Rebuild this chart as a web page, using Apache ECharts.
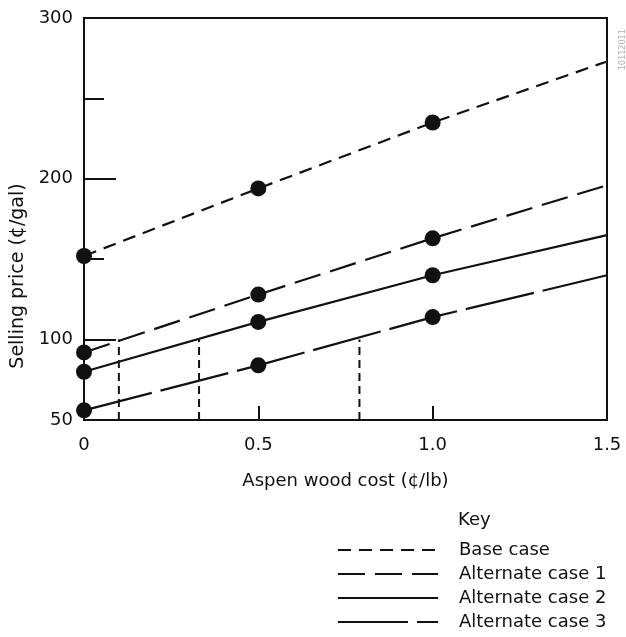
<!DOCTYPE html>
<html>
<head>
<meta charset="utf-8">
<script src="https://cdn.jsdelivr.net/npm/echarts@6/dist/echarts.min.js"></script>
<style>
  html, body { margin: 0; padding: 0; background: #fff; }
  #chart { width: 626px; height: 637px; }
</style>
</head>
<body>
<div id="chart"></div>
<script>
// Selling price (¢/gal) against aspen wood cost (¢/lb)
const woodCost = [0, 0.5, 1.0, 1.5];
const baseCase = [152, 194, 235, 273];
const alternate1 = [92, 128, 163, 196];
const alternate2 = [80, 111, 140, 165];
const alternate3 = [56, 84, 114, 140];
const markedCount = 3;                 // dots drawn at the first three costs
const breakEvenCost = [0.1, 0.33, 0.79];
const breakEvenPrice = 100;
const priceFloor = 50;
const seriesNames = ['Base case', 'Alternate case 1', 'Alternate case 2', 'Alternate case 3'];
const xTickLabels = ['0', '0.5', '1.0', '1.5'];
const yTickLabels = [50, 100, 200, 300];
const yLongTicks = [100, 200];
const yShortTicks = [150, 250];
const xTicks = [0.5, 1.0];

const INK = '#111';
const FONT = 'DejaVu Sans';
const dashes = [[13, 8], [27, 10], 'solid', [70, 9]];
const allCases = [baseCase, alternate1, alternate2, alternate3];

const series = [];
allCases.forEach((vals, i) => {
  series.push({
    name: seriesNames[i],
    type: 'line',
    data: woodCost.map((c, j) => [c, vals[j]]),
    symbol: 'none',
    showSymbol: false,
    silent: true,
    z: 3,
    lineStyle: { color: INK, width: 2.2, type: dashes[i] },
    itemStyle: { color: INK }
  });
});
allCases.forEach((vals, i) => {
  series.push({
    name: seriesNames[i] + ' points',
    type: 'scatter',
    data: woodCost.slice(0, markedCount).map((c, j) => [c, vals[j]]),
    symbol: 'circle',
    symbolSize: 16,
    clip: false,
    silent: true,
    z: 5,
    itemStyle: { color: INK, opacity: 1 }
  });
});
breakEvenCost.forEach((c, i) => {
  series.push({
    name: 'break-even ' + i,
    type: 'line',
    data: [[c, priceFloor], [c, breakEvenPrice]],
    symbol: 'none',
    silent: true,
    z: 2,
    lineStyle: { color: INK, width: 2, type: [8, 5] }
  });
});

const chart = echarts.init(document.getElementById('chart'), null, { renderer: 'canvas' });
chart.setOption({
  animation: false,
  backgroundColor: '#fff',
  textStyle: { fontFamily: FONT, color: INK },
  grid: {
    left: 84, right: 19, top: 18, bottom: 217,
    show: true, borderColor: INK, borderWidth: 2, backgroundColor: 'transparent'
  },
  xAxis: {
    type: 'value', min: 0, max: 1.5, interval: 0.5,
    axisLine: { show: true, lineStyle: { color: INK, width: 2 } },
    axisTick: { show: true, inside: true, length: 14, customValues: xTicks, lineStyle: { color: INK, width: 2 } },
    axisLabel: {
      color: INK, fontSize: 18, fontFamily: FONT, margin: 16,
      formatter: v => xTickLabels[Math.round(v / 0.5)]
    },
    splitLine: { show: false },
    name: 'Aspen wood cost (¢/lb)', nameLocation: 'middle', nameGap: 52,
    nameTextStyle: { color: INK, fontSize: 18, fontFamily: FONT }
  },
  yAxis: [{
    type: 'value', min: 50, max: 300, interval: 50, position: 'left',
    axisLine: { show: true, lineStyle: { color: INK, width: 2 } },
    axisTick: { show: true, inside: true, length: 32, customValues: yLongTicks, lineStyle: { color: INK, width: 2 } },
    axisLabel: { color: INK, fontSize: 18, fontFamily: FONT, margin: 11, customValues: yTickLabels },
    splitLine: { show: false },
    name: 'Selling price (¢/gal)', nameLocation: 'middle', nameGap: 56,
    nameTextStyle: { color: INK, fontSize: 19, fontFamily: FONT, padding: [0, 114, 0, 0] }
  }, {
    type: 'value', min: 50, max: 300, interval: 50, position: 'left',
    axisLine: { show: false },
    axisTick: { show: true, inside: true, length: 20, customValues: yShortTicks, lineStyle: { color: INK, width: 2 } },
    axisLabel: { show: false },
    splitLine: { show: false }
  }],
  legend: {
    data: seriesNames,
    orient: 'vertical',
    left: 337, top: 538,
    padding: 0,
    itemWidth: 100, itemHeight: 14, itemGap: 0,
    selectedMode: false,
    itemStyle: { opacity: 0 },
    textStyle: { color: INK, fontSize: 18, fontFamily: FONT, lineHeight: 24, padding: [0, 0, 0, 16] }
  },
  graphic: [{
    type: 'text', left: 458, top: 511,
    style: { text: 'Key', fill: INK, font: '18px "DejaVu Sans"' }
  }, {
    type: 'text', x: 619, y: 70, rotation: Math.PI / 2,
    style: { text: '10112011', fill: '#aaa', font: '8px "DejaVu Sans"' }
  }],
  series: series
});
</script>
</body>
</html>
